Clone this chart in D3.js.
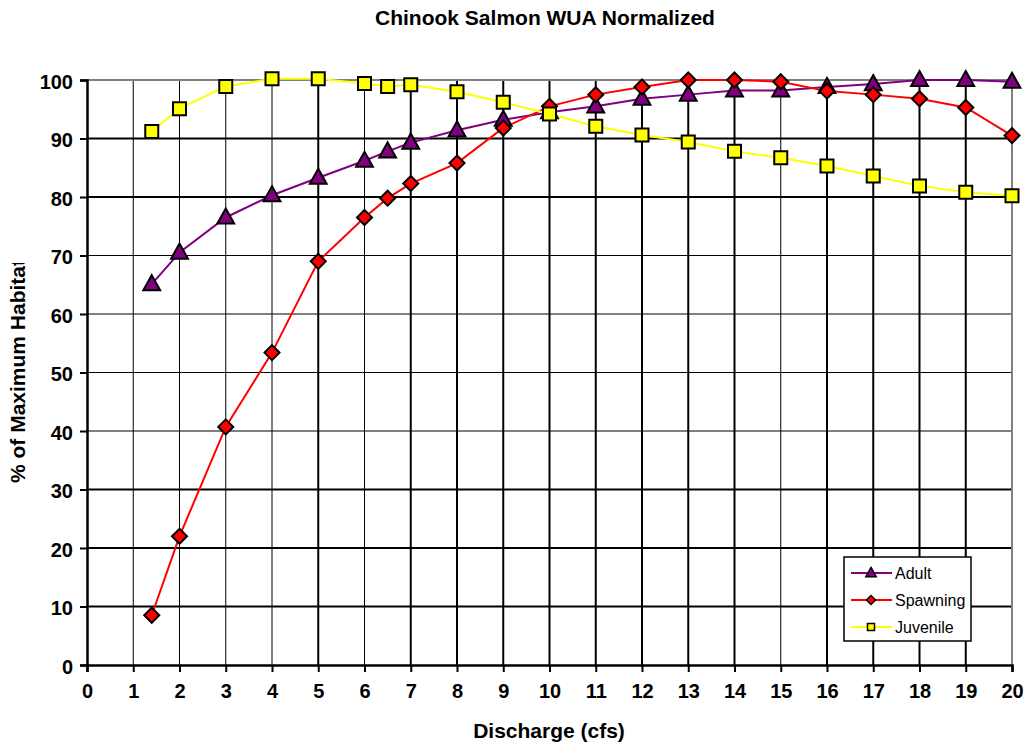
<!DOCTYPE html>
<html>
<head>
<meta charset="utf-8">
<script src="https://cdn.jsdelivr.net/npm/d3@7"></script>
<style>
  body { margin: 0; background: #fff; }
  text { font-family: Arial, "Liberation Sans", sans-serif; }
</style>
</head>
<body>
<div id="chart"></div>
<script>
// Data
const discharge = [1.4, 2, 3, 4, 5, 6, 6.5, 7, 8, 9, 10, 11, 12, 13, 14, 15, 16, 17, 18, 19, 20];
const adult     = [65.1, 70.5, 76.5, 80.3, 83.3, 86.2, 87.8, 89.3, 91.4, 93.2, 94.5, 95.5, 96.8, 97.5, 98.2, 98.2, 98.8, 99.3, 100, 100, 99.7];
const spawning  = [8.5, 22.0, 40.7, 53.4, 69.0, 76.5, 79.8, 82.3, 85.8, 91.8, 95.5, 97.5, 98.8, 100, 100, 99.7, 98.1, 97.5, 96.8, 95.3, 90.5];
const juvenile  = [91.2, 95.1, 98.9, 100.2, 100.2, 99.4, 98.9, 99.2, 98.0, 96.2, 94.2, 92.1, 90.6, 89.4, 87.8, 86.7, 85.3, 83.6, 81.9, 80.8, 80.2];
const xTicks = d3.range(0, 21);
const yTicks = d3.range(0, 101, 10);
// grid lines drawn thin in the original
const thinX = [1, 2, 3, 4, 6, 15];
const thinY = [40, 50, 60, 70];

const width = 1028, height = 744;
const margins = {top: 80, right: 16, bottom: 79, left: 87};

const svg = d3.select("#chart").append("svg")
    .attr("width", width)
    .attr("height", height);

const x = d3.scaleLinear().domain([0, 20]).range([margins.left, width - margins.right]);
const y = d3.scaleLinear().domain([0, 100]).range([height - margins.bottom, margins.top]);

// Grid
svg.append("g").selectAll("line")
    .data(xTicks.filter(d => d > 0 && d < 20))
    .enter().append("line")
    .attr("x1", d => x(d)).attr("x2", d => x(d))
    .attr("y1", y(100)).attr("y2", y(0))
    .attr("stroke", "#000")
    .attr("stroke-width", d => thinX.includes(d) ? 1 : 2);

svg.append("g").selectAll("line")
    .data(yTicks.filter(d => d > 0 && d < 100))
    .enter().append("line")
    .attr("x1", x(0)).attr("x2", x(20))
    .attr("y1", d => y(d)).attr("y2", d => y(d))
    .attr("stroke", "#000")
    .attr("stroke-width", d => thinY.includes(d) ? 1 : 2);

// top and right border (gray)
svg.append("path")
    .attr("d", `M${x(0)},${y(100)}H${x(20)}V${y(0)}`)
    .attr("fill", "none")
    .attr("stroke", "#808080")
    .attr("stroke-width", 2);

// Axes
const xAxis = svg.append("g")
    .attr("transform", `translate(0,${y(0)})`)
    .call(d3.axisBottom(x).tickValues(xTicks).tickSize(7).tickPadding(12).tickFormat(d3.format("d")));
const yAxis = svg.append("g")
    .attr("transform", `translate(${x(0)},0)`)
    .call(d3.axisLeft(y).tickValues(yTicks).tickSize(7).tickPadding(7).tickFormat(d3.format("d")));

[xAxis, yAxis].forEach(a => {
    a.select(".domain").attr("stroke", "#000").attr("stroke-width", 2.5);
    a.selectAll(".tick line").attr("stroke", "#000").attr("stroke-width", 2);
    a.selectAll(".tick text")
        .attr("fill", "#000")
        .style("font-family", "Arial, 'Liberation Sans', sans-serif")
        .style("font-size", "20px")
        .style("font-weight", "bold");
});
yAxis.selectAll(".tick text").attr("dy", "0.42em");

// Title and axis labels
svg.append("text")
    .attr("x", 545).attr("y", 25)
    .attr("text-anchor", "middle")
    .style("font-size", "21px").style("font-weight", "bold")
    .text("Chinook Salmon WUA Normalized");

svg.append("text")
    .attr("x", 549).attr("y", 738)
    .attr("text-anchor", "middle")
    .style("font-size", "21px").style("font-weight", "bold")
    .text("Discharge (cfs)");

// y label is truncated in the original
svg.append("clipPath").attr("id", "ylabClip")
    .append("rect").attr("x", 0).attr("y", 263).attr("width", 40).attr("height", 240);
svg.append("g")
    .attr("clip-path", "url(#ylabClip)")
    .append("text")
    .attr("transform", "translate(25,483) rotate(-90)")
    .attr("text-anchor", "start")
    .style("font-size", "21px").style("font-weight", "bold")
    .text("% of Maximum Habitat");

// Series
const series = [
    {name: "Adult", values: adult, color: "#800080", fill: "#800080", shape: "triangle"},
    {name: "Spawning", values: spawning, color: "#ff0000", fill: "#ff0000", shape: "diamond"},
    {name: "Juvenile", values: juvenile, color: "#ffff00", fill: "#ffff00", shape: "square"}
];

const markerPath = {
    triangle: s => `M0,${-s * 0.62}L${s * 0.58},${s * 0.42}L${-s * 0.58},${s * 0.42}Z`,
    diamond: s => `M0,${-s / 2}L${s / 2},0L0,${s / 2}L${-s / 2},0Z`,
    square: s => `M${-s / 2},${-s / 2}H${s / 2}V${s / 2}H${-s / 2}Z`
};
const markerSize = {triangle: 14.5, diamond: 15, square: 13};

const line = d3.line()
    .x(d => x(d[0]))
    .y(d => y(d[1]));

series.forEach(s => {
    const pts = discharge.map((d, i) => [d, s.values[i]]);
    svg.append("path")
        .datum(pts)
        .attr("fill", "none")
        .attr("stroke", s.color)
        .attr("stroke-width", 2)
        .attr("d", line);
});

series.forEach(s => {
    const pts = discharge.map((d, i) => [d, s.values[i]]);
    svg.append("g").selectAll("path")
        .data(pts)
        .enter().append("path")
        .attr("transform", d => `translate(${x(d[0])},${y(d[1])})`)
        .attr("d", markerPath[s.shape](markerSize[s.shape]))
        .attr("fill", s.fill)
        .attr("stroke", "#000")
        .attr("stroke-width", 2)
        .attr("stroke-linejoin", "miter");
});

// Legend
const legend = svg.append("g").attr("transform", "translate(844,557)");
legend.append("rect")
    .attr("width", 127).attr("height", 84)
    .attr("fill", "#fff")
    .attr("stroke", "#000")
    .attr("stroke-width", 1.5);

series.forEach((s, i) => {
    const ly = 16 + i * 27;
    legend.append("line")
        .attr("x1", 7).attr("x2", 48)
        .attr("y1", ly).attr("y2", ly)
        .attr("stroke", s.color).attr("stroke-width", 2);
    legend.append("path")
        .attr("transform", `translate(27,${ly})`)
        .attr("d", markerPath[s.shape](s.shape === "square" ? 7 : 9))
        .attr("fill", s.fill)
        .attr("stroke", "#000")
        .attr("stroke-width", 1.5);
    legend.append("text")
        .attr("x", 51).attr("y", ly)
        .attr("dy", "0.36em")
        .style("font-size", "16px")
        .text(s.name);
});
</script>
</body>
</html>
